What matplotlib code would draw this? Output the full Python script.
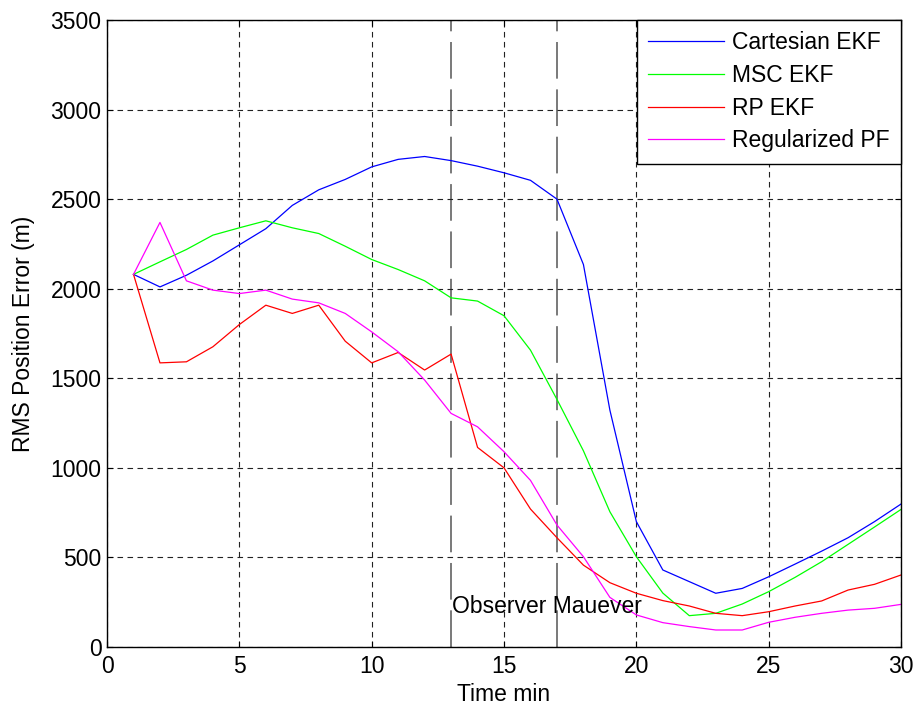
import numpy as np
import matplotlib
matplotlib.use('Agg')
import matplotlib.pyplot as plt

plt.rcParams['font.family'] = ['Liberation Sans', 'DejaVu Sans']
FONT_SIZE = 16.5

time_min = list(range(1, 31))
cartesian_ekf = [2080, 2010, 2075, 2155, 2245, 2335, 2465, 2552, 2610, 2680,
                 2722, 2738, 2715, 2684, 2647, 2605, 2500, 2135, 1322, 700,
                 430, 365, 300, 327, 392, 463, 535, 610, 700, 798]
msc_ekf = [2080, 2150, 2219, 2299, 2340, 2379, 2340, 2308, 2237, 2163,
           2107, 2044, 1949, 1931, 1849, 1657, 1382, 1095, 755, 504,
           301, 175, 188, 240, 309, 389, 476, 573, 670, 768]
rp_ekf = [2080, 1586, 1592, 1676, 1800, 1908, 1862, 1908, 1707, 1586,
          1644, 1546, 1635, 1114, 1000, 770, 610, 457, 359, 300,
          259, 229, 188, 175, 197, 229, 257, 318, 350, 402]
reg_pf = [2080, 2370, 2044, 1992, 1973, 1992, 1942, 1921, 1862, 1759,
          1648, 1490, 1304, 1229, 1090, 930, 681, 504, 277, 179,
          136, 114, 95, 95, 138, 166, 188, 206, 216, 238]
maneuver_times = [13, 17]

fig = plt.figure(figsize=(9.18, 7.11), dpi=100)
ax = fig.add_axes([0.1166, 0.09, 0.8649, 0.8819])

for t in maneuver_times:
    ax.plot([t, t], [0, 3500], color='#555555', lw=1.1, dashes=(24, 7), zorder=1)

ax.plot(time_min, cartesian_ekf, color='#0000ff', lw=0.9, label='Cartesian EKF')
ax.plot(time_min, msc_ekf, color='#00ff00', lw=0.9, label='MSC EKF')
ax.plot(time_min, rp_ekf, color='#ff0000', lw=0.9, label='RP EKF')
ax.plot(time_min, reg_pf, color='#ff00ff', lw=0.9, label='Regularized PF')

ax.text(13.05, 225, 'Observer Mauever', fontsize=FONT_SIZE, va='center', ha='left')

ax.set_xlim(0, 30)
ax.set_ylim(0, 3500)
ax.set_xticks(range(0, 31, 5))
ax.set_yticks(range(0, 3501, 500))
ax.grid(True, color='#222222', linestyle=(0, (5, 4)), lw=0.8)
ax.tick_params(direction='in', top=True, right=True, labelsize=FONT_SIZE, length=4)
ax.tick_params(axis='x', pad=6)
ax.tick_params(axis='y', pad=4)
ax.set_xlabel('Time min', fontsize=FONT_SIZE, labelpad=3)
ax.set_ylabel('RMS Position Error (m)', fontsize=FONT_SIZE, labelpad=11)
for s in ax.spines.values():
    s.set_linewidth(1.0)

leg = ax.legend(loc='upper right', fontsize=FONT_SIZE, fancybox=False, framealpha=1,
                edgecolor='black', borderaxespad=0, handlelength=3.3,
                handletextpad=0.35, labelspacing=0.42, borderpad=0.5)
leg.get_frame().set_linewidth(1.0)

fig.savefig('out.png', dpi=100)
